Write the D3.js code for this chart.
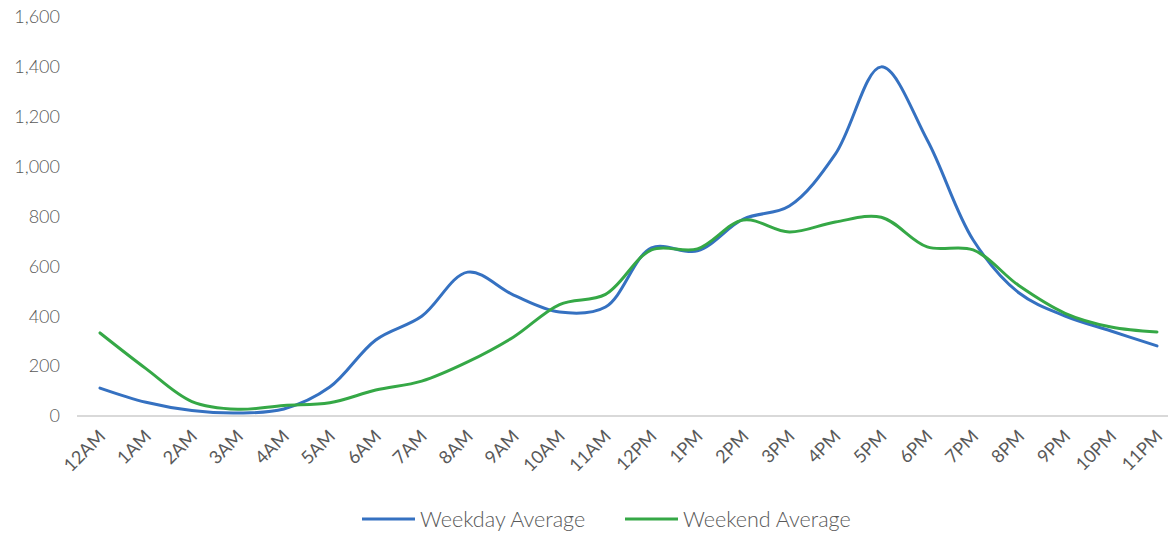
<!DOCTYPE html>
<html>
<head>
<meta charset="utf-8">
<script src="https://cdn.jsdelivr.net/npm/d3@7"></script>
<style>
  body { margin: 0; background: #fff; }
  text { font-family: Lato, "Open Sans", sans-serif; font-weight: 300; fill: #595959; }
</style>
</head>
<body>
<script>
var w = 1168;
var h = 534;

// hour labels
var hours = ["12AM","1AM","2AM","3AM","4AM","5AM","6AM","7AM","8AM","9AM","10AM","11AM",
             "12PM","1PM","2PM","3PM","4PM","5PM","6PM","7PM","8PM","9PM","10PM","11PM"];

// weekday average
var weekday = [112, 55, 22, 12, 28, 116, 305, 400, 577, 485, 417, 437,
               674, 662, 790, 842, 1050, 1400, 1107, 706, 493, 401, 341, 281];

// weekend average
var weekend = [333, 190, 58, 27, 42, 53, 104, 140, 217, 317, 447, 488,
               666, 670, 786, 738, 778, 797, 678, 666, 522, 412, 357, 337];

var yTicks = [0, 200, 400, 600, 800, 1000, 1200, 1400, 1600];

var series = [
  {name: "Weekday Average", values: weekday, color: "#3571c1"},
  {name: "Weekend Average", values: weekend, color: "#35a846"}
];

var svg = d3.select("body")
            .append("svg")
            .attr("width", w)
            .attr("height", h);

var x = d3.scalePoint()
          .domain(hours)
          .range([100, 1157]);

var y = d3.scaleLinear()
          .domain([0, 1600])
          .range([416, 17]);

//y labels
svg.selectAll(".ylab")
   .data(yTicks)
   .enter()
   .append("text")
   .attr("class", "ylab")
   .attr("x", 60)
   .attr("y", function(d) { return y(d); })
   .attr("dy", "0.35em")
   .attr("text-anchor", "end")
   .style("font-size", "18px")
   .text(function(d) { return d3.format(",")(d); });

//baseline
svg.append("line")
   .attr("x1", 77)
   .attr("x2", w)
   .attr("y1", y(0))
   .attr("y2", y(0))
   .style("stroke", "#d9d9d9")
   .style("stroke-width", 2);

//x labels, rotated
svg.selectAll(".xlab")
   .data(hours)
   .enter()
   .append("text")
   .attr("class", "xlab")
   .attr("transform", function(d) { return "translate(" + (x(d) + 2) + ",433) rotate(-45)"; })
   .attr("text-anchor", "end")
   .attr("dy", "0.35em")
   .style("font-size", "18px")
   .style("font-weight", 400)
   .text(function(d) { return d; });

//lines
var line = d3.line()
             .x(function(d, i) { return x(hours[i]); })
             .y(function(d) { return y(d); })
             .curve(d3.curveCatmullRom.alpha(0.5));

svg.selectAll(".series")
   .data(series)
   .enter()
   .append("path")
   .attr("class", "series")
   .attr("d", function(d) { return line(d.values); })
   .style("fill", "none")
   .style("stroke", function(d) { return d.color; })
   .style("stroke-width", 3)
   .style("stroke-linecap", "round");

//legend
var legend = svg.selectAll(".legend")
                .data(series)
                .enter()
                .append("g")
                .attr("class", "legend")
                .attr("transform", function(d, i) { return "translate(" + (362 + i * 263) + ",519)"; });

legend.append("line")
      .attr("x1", 0)
      .attr("x2", 53)
      .style("stroke", function(d) { return d.color; })
      .style("stroke-width", 3);

legend.append("text")
      .attr("x", 58)
      .attr("dy", "0.35em")
      .style("font-size", "21.5px")
      .text(function(d) { return d.name; });
</script>
</body>
</html>
